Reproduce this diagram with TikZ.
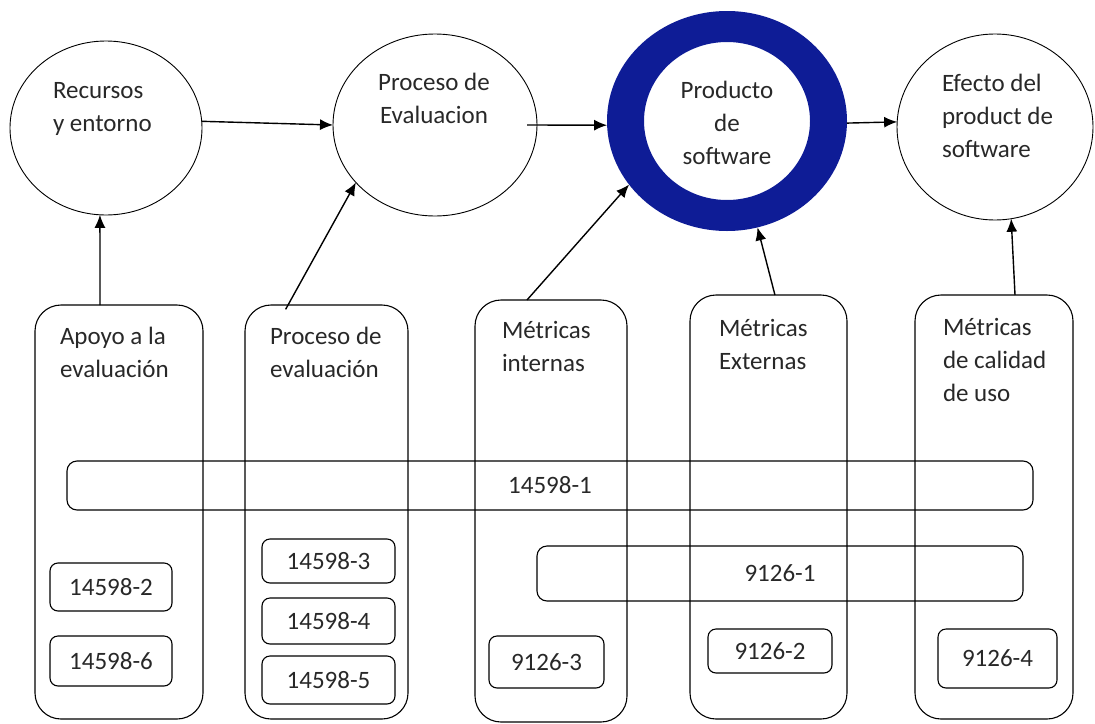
\documentclass[tikz,border=0pt]{standalone}
\usepackage{fontspec}
\setmainfont{Carlito}
\usetikzlibrary{shapes.geometric,arrows.meta,calc}
\definecolor{ringblue}{RGB}{14,28,150}
\definecolor{ink}{RGB}{40,40,40}
\begin{document}
\begin{tikzpicture}[x=1pt,y=-1pt,
  every node/.style={inner sep=0pt, outer sep=0pt, text=ink},
  txt/.style={font=\fontsize{25pt}{33pt}\selectfont},
  oval/.style={ellipse, draw=black, line width=0.9pt},
  column/.style={draw=black, rounded corners=26pt, line width=1.1pt},
  band/.style={draw=black, rounded corners=10pt, line width=1.1pt, txt},
  tag/.style={draw=black, rounded corners=8pt, line width=1.1pt, txt},
  link/.style={line width=1.4pt, -{Latex[length=13pt,width=11pt]}},
]
\useasboundingbox (0,0) rectangle (1095,723);

% top row: ovals and the highlighted product ring
\node[oval, minimum width=192pt, minimum height=174pt] (c1) at (106,128) {};
\node[oval, minimum width=204pt, minimum height=182pt] (c2) at (435,125) {};
\node[ellipse, minimum width=240pt, minimum height=220pt] (c3) at (727,121) {};
\node[oval, minimum width=196pt, minimum height=186pt] (c4) at (995,127) {};
\fill[ringblue, even odd rule]
  (c3.center) ellipse [x radius=120, y radius=110]
  (c3.center) ellipse [x radius=83, y radius=79];

% multi-line labels are placed by the baseline of their last line
\node[txt, anchor=base west, align=left] (t1) at (53,131) {Recursos\\y entorno};
\node[txt, anchor=base, align=center] (t2) at (434,123) {Proceso de\\Evaluacion};
\node[txt, anchor=base, align=center] (t3) at (727,164) {Producto\\de\\software};
\node[txt, anchor=base west, align=left] (t4) at (942,157) {Efecto del\\product de\\software};

% bottom row: tall columns
\node[column, minimum width=168pt, minimum height=414pt] (box1) at (119,512) {};
\node[column, minimum width=163pt, minimum height=414pt] (box2) at (326.5,512) {};
\node[column, minimum width=152pt, minimum height=422pt] (box3) at (551,511) {};
\node[column, minimum width=157pt, minimum height=424pt] (box4) at (768.5,507) {};
\node[column, minimum width=158pt, minimum height=424pt] (box5) at (994,507) {};

\node[txt, anchor=base west, align=left] (l1) at (60,377) {Apoyo a la\\evaluación};
\node[txt, anchor=base west, align=left] (l2) at (270,377) {Proceso de\\evaluación};
\node[txt, anchor=base west, align=left] (l3) at (502,371) {Métricas\\internas};
\node[txt, anchor=base west, align=left] (l4) at (719,369) {Métricas\\Externas};
\node[txt, anchor=base west, align=left] (l5) at (943,401) {Métricas\\de calidad\\de uso};

% horizontal bands across the columns
\node[band, minimum width=966pt, minimum height=49pt] (b1) at (550,485.5) {14598-1};
\node[band, minimum width=486pt, minimum height=55pt] (b2) at (780,573.5) {9126-1};

% standard parts inside the columns
\node[tag, minimum width=122pt, minimum height=48pt] (s2) at (111,587) {14598-2};
\node[tag, minimum width=122pt, minimum height=50pt] (s6) at (111,661) {14598-6};
\node[tag, minimum width=133pt, minimum height=44pt] (s3) at (328.5,561) {14598-3};
\node[tag, minimum width=133pt, minimum height=46pt] (s4) at (328.5,621) {14598-4};
\node[tag, minimum width=133pt, minimum height=48pt] (s5) at (328.5,680) {14598-5};
\node[tag, minimum width=115pt, minimum height=52pt] (n3) at (546.5,662) {9126-3};
\node[tag, minimum width=124pt, minimum height=44pt] (n2) at (770,651) {9126-2};
\node[tag, minimum width=119pt, minimum height=59pt] (n4) at (997.5,658.5) {9126-4};

% flow along the top row
\draw[link] (c1.4) -- (c2.west);
\draw[link] ([xshift=-10pt]c2.east) -- (c3.182);
\draw[link] (c3.359) -- (c4.177);

% columns feeding the top row
\draw[link] ($(box1.north west)!0.387!(box1.north east)$) -- (c1.266);
\draw[link, shorten <=-5pt] ($(box2.north west)!0.264!(box2.north east)$) -- (c2.216);
\draw[link] ($(box3.north west)!0.342!(box3.north east)$) -- (c3.213);
\draw[link] ($(box4.north west)!0.541!(box4.north east)$) -- (c3.286);
\draw[link] ($(box5.north west)!0.633!(box5.north east)$) -- (c4.280);
\end{tikzpicture}
\end{document}
